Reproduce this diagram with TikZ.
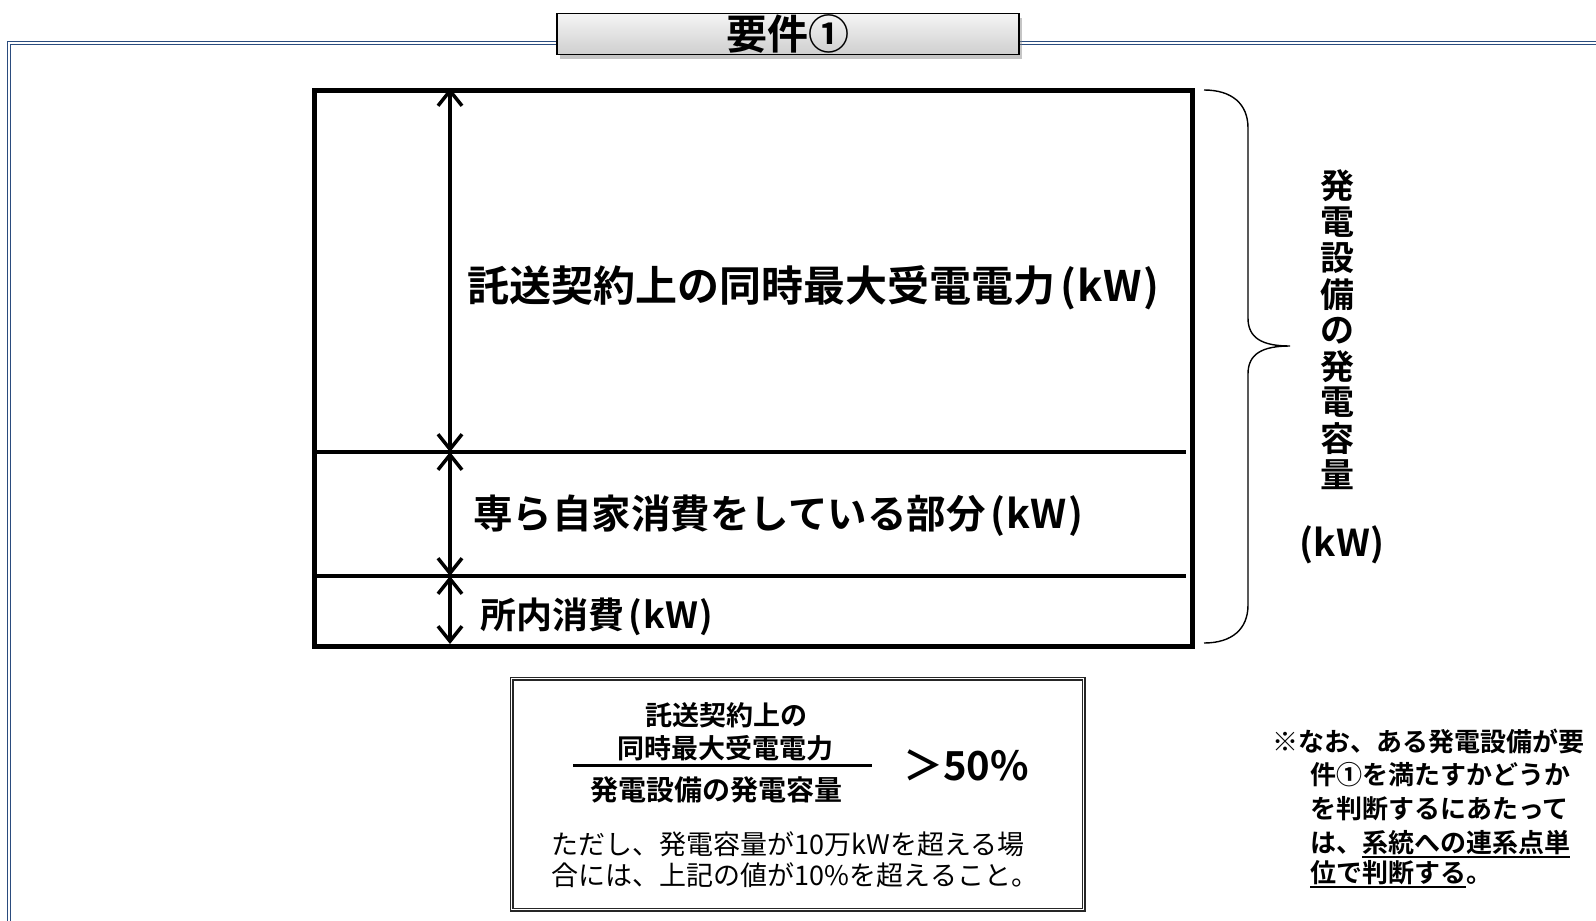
\documentclass[tikz,border=0pt]{standalone}
\usepackage{fontspec}
\setmainfont{Noto Sans CJK JP}[BoldFont={Noto Sans CJK JP Bold}]
\usetikzlibrary{arrows.meta,shadows}
\definecolor{framecol}{HTML}{2B4C7E}
\newcommand\myul[1]{\setbox0\hbox{#1}\rlap{\rule[-6pt]{\wd0}{1.8pt}}\box0}
\newcommand\fsz[1]{\fontsize{#1}{#1}\selectfont}
\newcommand\kwpar{\hspace{0.12em}(\hspace{0.04em}kW\hspace{0.04em})}
\begin{document}
\begin{tikzpicture}[x=1pt,y=-1pt,
  frame/.style={draw=framecol, double=white, line width=1.4pt, double distance=1.3pt},
  titlebox/.style={draw=black, line width=1.5pt, top color=gray!8, bottom color=gray!38,
    drop shadow={opacity=0.45,shadow xshift=3pt,shadow yshift=-4pt},
    minimum width=462pt, minimum height=41pt, inner sep=0pt},
  mainbox/.style={draw, line width=4.5pt, inner sep=0pt, anchor=north west},
  divider/.style={line width=4pt},
  dimarrow/.style={line width=3.5pt, line cap=round,
    {Straight Barb[length=15pt,width=24pt]}-{Straight Barb[length=15pt,width=24pt]}},
  bigtext/.style={anchor=west, inner sep=0pt},
  bracestyle/.style={line width=1.4pt},
  vchar/.style={font=\bfseries\fsz{34}, inner sep=0pt},
  fracpart/.style={font=\bfseries\fsz{27}, inner sep=0pt},
  notetext/.style={font=\bfseries\fsz{26}, anchor=base west, inner sep=0pt},
  formbox/.style={draw=black!85, double=white, line width=1.2pt, double distance=1.6pt,
    inner sep=0pt, anchor=north west}
]
\useasboundingbox (0,0) rectangle (1596,921);
\clip (0,0) rectangle (1596,921);
\fill[white] (0,0) rectangle (1596,921);

% outer frame
\draw[frame] (9,43) rectangle (1660,980);

% title
\node[titlebox] (title) at (788,34) {\bfseries\fsz{41}要件①};

% main box
\node[mainbox, minimum width=878pt, minimum height=556pt] (box) at (312,88) {};
\coordinate (d1l) at (312,452);
\coordinate (d1r) at (1186,452);
\coordinate (d2l) at (312,576);
\coordinate (d2r) at (1186,576);
\draw[divider] (d1l) -- (d1r);
\draw[divider] (d2l) -- (d2r);

% arrows
\coordinate (a0) at (450,88);
\coordinate (a1) at (450,452);
\coordinate (a2) at (450,576);
\coordinate (a3) at (450,644);
\draw[dimarrow] (a0) -- (a1);
\draw[dimarrow] (a1) -- (a2);
\draw[dimarrow] (a2) -- (a3);

% texts in box
\node[bigtext, font=\bfseries\fsz{42}] (t1) at (467,288) {託送契約上の同時最大受電電力\kwpar};
\node[bigtext, font=\bfseries\fsz{39.5}] (t2) at (473,516) {専ら自家消費をしている部分\kwpar};
\node[bigtext, font=\bfseries\fsz{36}] (t3) at (480,617) {所内消費\kwpar};

% brace
\coordinate (b0) at (1204,90);
\coordinate (b1) at (1248,128);
\coordinate (b2) at (1248,318);
\coordinate (bt) at (1290,346);
\coordinate (b3) at (1248,374);
\coordinate (b4) at (1248,605);
\coordinate (b5) at (1204,643);
\draw[bracestyle] (b0) .. controls (1232,90) and (1248,104) .. (b1) -- (b2)
  .. controls (1248,338) and (1262,346) .. (bt)
  .. controls (1262,346) and (1248,354) .. (b3) -- (b4)
  .. controls (1248,629) and (1232,643) .. (b5);

% vertical label
\foreach \c [count=\i from 0] in {発,電,設,備,の,発,電,容,量} {
  \node[vchar] (v\i) at (1337,{186+36.1*\i}) {\c};
}
\node[font=\bfseries\fsz{37}, inner sep=0pt] (vkw) at (1342,545) {(kW)};

% formula box
\node[formbox, minimum width=572pt, minimum height=231pt] (fbox) at (511,678) {};
\node[fracpart] (n1) at (726,715) {託送契約上の};
\node[fracpart] (n2) at (725,748) {同時最大受電電力};
\coordinate (fl) at (573,765);
\coordinate (fr) at (872,765);
\draw[line width=3pt] (fl) -- (fr);
\node[fracpart, font=\bfseries\fsz{28}] (den) at (716,790) {発電設備の発電容量};
\node[font=\bfseries\fsz{40}, inner sep=0pt] (gt) at (966,765) {＞50\%};
\node[font=\fontsize{27}{31}\selectfont, align=left, inner sep=0pt] (cond) at (795,860)
  {ただし、発電容量が10万kWを超える場\\合には、上記の値が10\%を超えること。};

% note
\node[notetext] (nt1) at (1272,751) {※なお、ある発電設備が要};
\node[notetext] (nt2) at (1310,784) {件①を満たすかどうか};
\node[notetext] (nt3) at (1310,818) {を判断するにあたって};
\node[notetext] (nt4) at (1310,852) {は、\myul{系統への連系点単}};
\node[notetext] (nt5) at (1310,882) {\myul{位で判断する}。};
\end{tikzpicture}
\end{document}
